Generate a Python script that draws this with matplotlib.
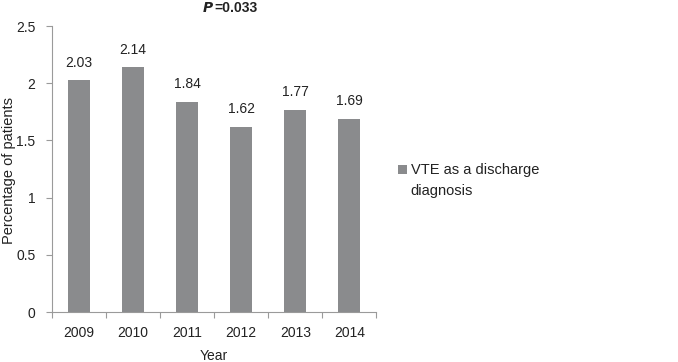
import matplotlib
matplotlib.use('Agg')
import matplotlib.pyplot as plt
from matplotlib.patches import Rectangle
import numpy as np

# 数据
years = ['2009', '2010', '2011', '2012', '2013', '2014']
vte_pct = [2.03, 2.14, 1.84, 1.62, 1.77, 1.69]
y_ticks = [0, 0.5, 1, 1.5, 2, 2.5]
y_tick_labels = ['0', '0.5', '1', '1.5', '2', '2.5']
legend_lines = ['VTE as a discharge', 'diagnosis']

plt.rcParams['font.family'] = ['Liberation Sans', 'DejaVu Sans']

bar_color = '#8a8b8d'
spine_color = '#9a9a9a'
text_color = '#222222'
fs = 10

fig = plt.figure(figsize=(6.78, 3.62), dpi=100)
ax = fig.add_axes([0.077, 0.138, 0.478, 0.79])

x = np.arange(len(years))
ax.bar(x, vte_pct, width=0.41, color=bar_color)

# 柱子上方的数值
for xi, v in zip(x, vte_pct):
    ax.text(xi, v + 0.09, '%.2f' % v, ha='center', va='bottom', fontsize=fs, color=text_color)

ax.set_xlim(-0.5, len(years) - 0.5)
ax.set_ylim(0, 2.5)
ax.set_yticks(y_ticks)
ax.set_yticklabels(y_tick_labels, fontsize=fs, color=text_color)

# x轴刻度在类别边界，标签在中间
ax.set_xticks(np.arange(-0.5, len(years)))
ax.set_xticklabels([''] * (len(years) + 1))
ax.set_xticks(x, minor=True)
ax.set_xticklabels(years, minor=True, fontsize=fs, color=text_color)
ax.tick_params(axis='x', which='minor', length=0, pad=10)
ax.tick_params(axis='x', which='major', length=4, color=spine_color)
ax.tick_params(axis='y', length=4, color=spine_color, pad=8)

for s in ['top', 'right']:
    ax.spines[s].set_visible(False)
for s in ['left', 'bottom']:
    ax.spines[s].set_color(spine_color)

ax.set_xlabel('Year', fontsize=fs, color=text_color)
ax.xaxis.set_label_coords(0.5, -0.128)
# y轴标题直接放在图的左边
fig.text(0.014, 0.53, 'Percentage of patients', rotation=90, ha='center', va='center',
         fontsize=10.5, color=text_color)

# 标题 P=0.033 (P斜体加粗)
fig.text(0.3155, 0.978, r'$\bfit{P}$', ha='right', va='center', fontsize=fs, color=text_color)
fig.text(0.3155, 0.978, '=0.033', ha='left', va='center', fontsize=fs, fontweight='bold', color=text_color)

# 图例：方块与第一行对齐
fig.patches.append(Rectangle((0.587, 0.519), 0.0135, 0.024, transform=fig.transFigure,
                             facecolor=bar_color, edgecolor='none'))
fig.text(0.606, 0.531, legend_lines[0], ha='left', va='center', fontsize=10.5, color=text_color)
fig.text(0.606, 0.473, legend_lines[1], ha='left', va='center', fontsize=10.5, color=text_color)

fig.savefig('out.png', dpi=100)
